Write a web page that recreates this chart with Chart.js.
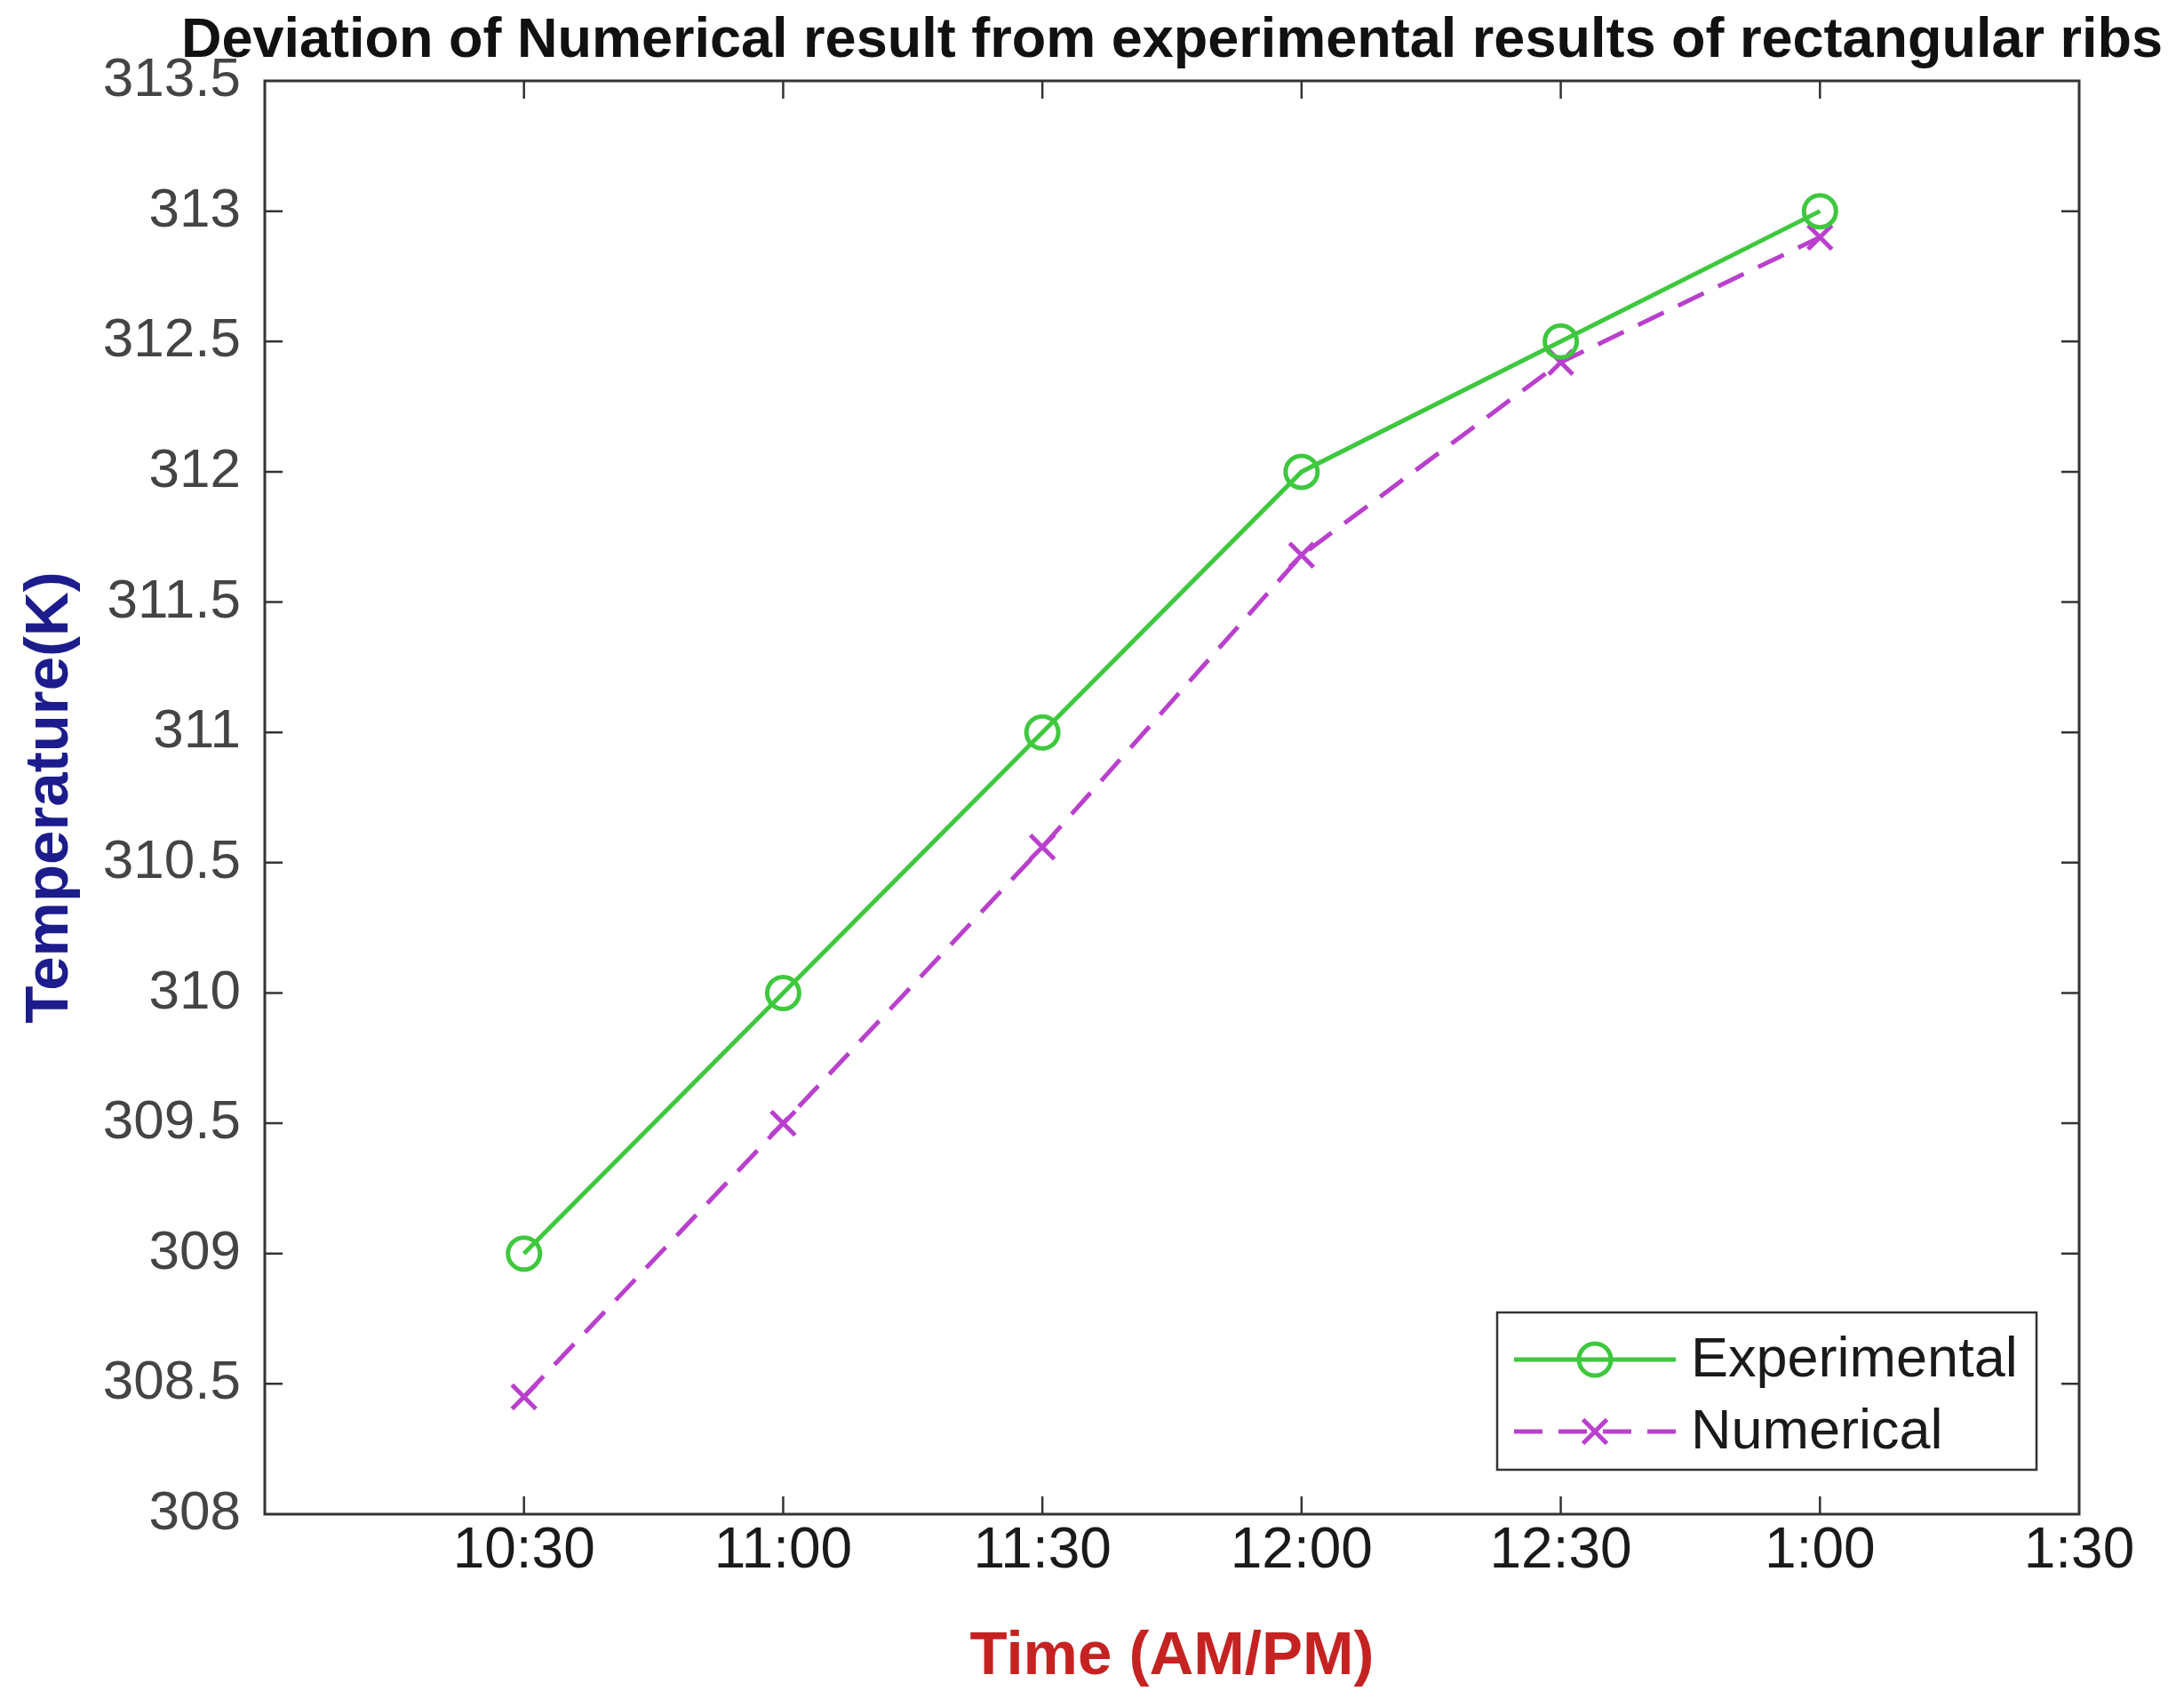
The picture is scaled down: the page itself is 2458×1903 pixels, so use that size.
<!DOCTYPE html>
<html>
<head>
<meta charset="utf-8">
<script src="https://cdn.jsdelivr.net/npm/chart.js@4.4.1/dist/chart.umd.min.js"></script>
<style>
  html, body { margin: 0; padding: 0; background: #fff; }
  canvas { display: block; }
</style>
</head>
<body>
<canvas id="ribChart" width="2458" height="1903"></canvas>
<script>
// axis tick labels (first position is the unlabeled left edge)
const timeTicks = ['', '10:30', '11:00', '11:30', '12:00', '12:30', '1:00', '1:30'];
// measurement times
const sampleTimes = ['10:30', '11:00', '11:30', '12:00', '12:30', '1:00'];
// temperatures (K)
const experimental = [309, 310, 311, 312, 312.5, 313];
const numerical = [308.45, 309.5, 310.56, 311.68, 312.42, 312.9];

const TITLE = 'Deviation of Numerical result from experimental results of rectangular ribs';
const FONT = "'Liberation Sans', Arial, Helvetica, sans-serif";
const GREEN = '#3ec83e';
const MAGENTA = '#b940cc';

function toPoints(values) {
    return sampleTimes.map((t, i) => ({ x: timeTicks.indexOf(t), y: values[i] }));
}

// box round the plot with inward ticks on all four sides
const frameTicks = {
    id: 'frameTicks',
    beforeDatasetsDraw(chart) {
        const { ctx, chartArea: a, scales } = chart;
        const len = 20;
        ctx.save();
        ctx.strokeStyle = '#333';
        ctx.lineWidth = 3;
        ctx.strokeRect(a.left, a.top, a.right - a.left, a.bottom - a.top);
        ctx.lineWidth = 2.5;
        ctx.beginPath();
        for (let i = 1; i < timeTicks.length - 1; i++) {
            const x = scales.x.getPixelForValue(i);
            ctx.moveTo(x, a.bottom); ctx.lineTo(x, a.bottom - len);
            ctx.moveTo(x, a.top); ctx.lineTo(x, a.top + len);
        }
        scales.y.ticks.forEach(t => {
            if (t.value <= scales.y.min || t.value >= scales.y.max) return;
            const y = scales.y.getPixelForValue(t.value);
            ctx.moveTo(a.left, y); ctx.lineTo(a.left + len, y);
            ctx.moveTo(a.right, y); ctx.lineTo(a.right - len, y);
        });
        ctx.stroke();
        ctx.restore();
    }
};

// title centred over the plot but allowed to run wider than it
const wideTitle = {
    id: 'wideTitle',
    afterDraw(chart) {
        const { ctx, chartArea: a } = chart;
        ctx.save();
        ctx.fillStyle = '#111';
        ctx.font = 'bold 63px ' + FONT;
        ctx.textAlign = 'center';
        ctx.textBaseline = 'middle';
        ctx.fillText(TITLE, (a.left + a.right) / 2, 47);
        ctx.restore();
    }
};

// legend box inside the lower right corner
const insideLegend = {
    id: 'insideLegend',
    afterDraw(chart) {
        const { ctx, chartArea: a } = chart;
        const w = 607, h = 177;
        const left = a.right - 48 - w, top = a.bottom - 50 - h;
        ctx.save();
        ctx.fillStyle = '#fff';
        ctx.fillRect(left, top, w, h);
        ctx.strokeStyle = '#333';
        ctx.lineWidth = 2.5;
        ctx.strokeRect(left, top, w, h);

        const rows = [top + 53, top + 134];
        chart.data.datasets.forEach((ds, i) => {
            const y = rows[i];
            ctx.strokeStyle = ds.borderColor;
            ctx.lineWidth = ds.borderWidth;
            ctx.setLineDash(ds.borderDash || []);
            ctx.beginPath();
            ctx.moveTo(left + 19, y);
            ctx.lineTo(left + 201, y);
            ctx.stroke();
            ctx.setLineDash([]);
            ctx.strokeStyle = ds.pointBorderColor;
            ctx.fillStyle = 'rgba(255,255,255,0)';
            ctx.lineWidth = ds.pointBorderWidth;
            Chart.helpers.drawPoint(ctx, {
                pointStyle: ds.pointStyle,
                radius: ds.pointRadius,
                borderWidth: ds.pointBorderWidth,
                rotation: 0
            }, left + 110, y);
            ctx.fillStyle = '#1a1a1a';
            ctx.font = '63px ' + FONT;
            ctx.textBaseline = 'middle';
            ctx.textAlign = 'left';
            ctx.fillText(ds.label, left + 218, y + 2);
        });
        ctx.restore();
    }
};

new Chart(document.getElementById('ribChart'), {
    type: 'line',
    data: {
        datasets: [{
            label: 'Experimental',
            data: toPoints(experimental),
            borderColor: GREEN,
            borderWidth: 5,
            pointStyle: 'circle',
            pointRadius: 18,
            pointBorderWidth: 5,
            pointBorderColor: GREEN,
            pointBackgroundColor: 'rgba(255,255,255,0)',
            tension: 0
        }, {
            label: 'Numerical',
            data: toPoints(numerical),
            borderColor: MAGENTA,
            borderWidth: 5,
            borderDash: [32, 18],
            pointStyle: 'crossRot',
            pointRadius: 19,
            pointBorderWidth: 5,
            pointBorderColor: MAGENTA,
            tension: 0
        }]
    },
    options: {
        responsive: false,
        animation: false,
        devicePixelRatio: 1,
        layout: { padding: { left: 0, right: 118, top: 91, bottom: 0 } },
        plugins: {
            legend: { display: false },
            tooltip: { enabled: false },
            title: { display: false }
        },
        scales: {
            x: {
                type: 'linear',
                min: 0,
                max: timeTicks.length - 1,
                grid: { display: false, drawTicks: false },
                border: { display: false },
                ticks: {
                    stepSize: 1,
                    autoSkip: false,
                    maxRotation: 0,
                    padding: 4,
                    color: '#1a1a1a',
                    font: { family: FONT, size: 64 },
                    callback: v => timeTicks[v]
                },
                title: {
                    display: true,
                    text: 'Time (AM/PM)',
                    color: '#c62222',
                    font: { family: FONT, size: 69, weight: 'bold', lineHeight: 1.1 },
                    padding: { top: 0, bottom: 0 }
                },
                afterFit(scale) { scale.height = 199; }
            },
            y: {
                min: 308,
                max: 313.5,
                grid: { display: false, drawTicks: false },
                border: { display: false },
                ticks: {
                    stepSize: 0.5,
                    padding: 27,
                    color: '#444',
                    font: { family: FONT, size: 62 },
                    callback: v => String(v)
                },
                title: {
                    display: true,
                    text: 'Temperature(K)',
                    color: '#1c1c8c',
                    font: { family: FONT, size: 69, weight: 'bold', lineHeight: 1.2 },
                    padding: { top: 16, bottom: 0 }
                },
                afterFit(scale) { scale.width = 298; }
            }
        }
    },
    plugins: [frameTicks, wideTitle, insideLegend]
});
</script>
</body>
</html>
